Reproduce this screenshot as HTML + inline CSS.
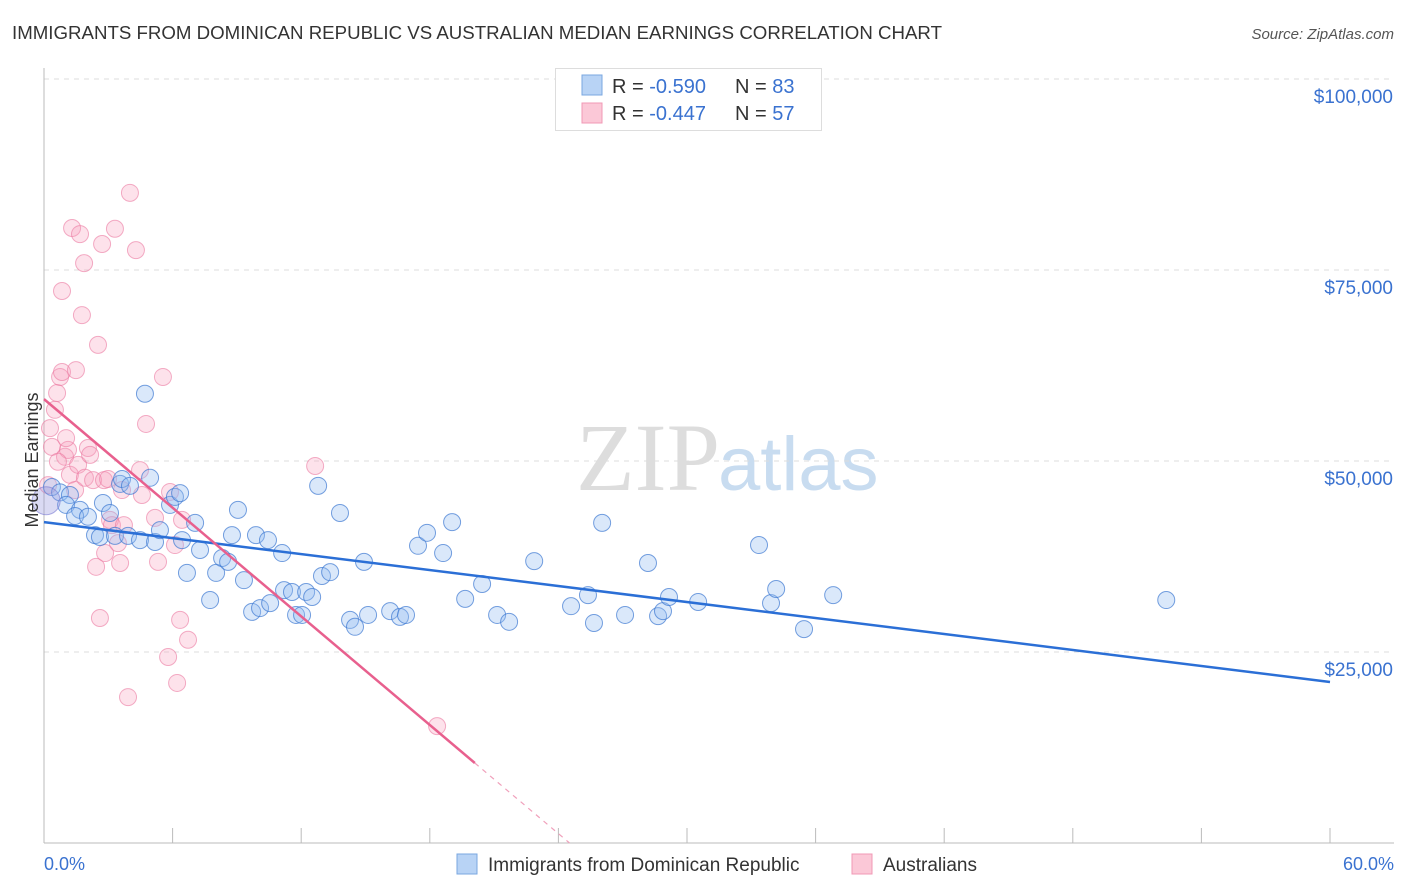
<!DOCTYPE html>
<html><head><meta charset="utf-8"><style>
body{margin:0;background:#fff;font-family:"Liberation Sans",sans-serif;}
#wrap{position:relative;width:1406px;height:892px;overflow:hidden}
</style></head><body>
<div id="wrap">
<svg id="svg" width="1406" height="892" xmlns="http://www.w3.org/2000/svg">
<text x="12" y="39" font-size="18" fill="#333" textLength="930" lengthAdjust="spacingAndGlyphs">IMMIGRANTS FROM DOMINICAN REPUBLIC VS AUSTRALIAN MEDIAN EARNINGS CORRELATION CHART</text>
<text x="1394" y="39" font-size="15" fill="#555" font-style="italic" text-anchor="end">Source: ZipAtlas.com</text>
<text x="720" y="490" font-size="96" fill="#ddd" text-anchor="end" font-family="Liberation Serif">ZIP</text>
<text x="718" y="490" font-size="76" fill="#c8dcf0">atlas</text>
<g id="grid"></g><g id="axes"></g><g id="pts"></g><g id="lines"></g>
<text x="38" y="460" font-size="18" fill="#333" text-anchor="middle" transform="rotate(-90 38 460)">Median Earnings</text>
<text x="44" y="870" font-size="18" fill="#3a72d0">0.0%</text>
<text x="1394" y="870" font-size="18" fill="#3a72d0" text-anchor="end">60.0%</text>
<g>
<rect x="555.5" y="68.5" width="266" height="62" fill="#fff" stroke="#ddd"/>
<rect x="582" y="75" width="20" height="20" fill="#b8d3f5" stroke="#7aa7e0"/>
<rect x="582" y="103" width="20" height="20" fill="#fbc8d7" stroke="#f098b5"/>
<text x="612" y="93" font-size="20" fill="#333">R = <tspan fill="#3a72d0">-0.590</tspan><tspan x="735">N = </tspan><tspan fill="#3a72d0">83</tspan></text>
<text x="612" y="120" font-size="20" fill="#333">R = <tspan fill="#3a72d0">-0.447</tspan><tspan x="735">N = </tspan><tspan fill="#3a72d0">57</tspan></text>
</g>
<g>
<rect x="457" y="854" width="20" height="20" fill="#b8d3f5" stroke="#7aa7e0"/>
<text x="488" y="871" font-size="19" fill="#333">Immigrants from Dominican Republic</text>
<rect x="852" y="854" width="20" height="20" fill="#fbc8d7" stroke="#f098b5"/>
<text x="883" y="871" font-size="19" fill="#333">Australians</text>
</g>
</svg></div>
<script>
const yTicks=[25000,50000,75000,100000];
const yTickLabels=["$25,000","$50,000","$75,000","$100,000"];
const xTicks=[0,6,12,18,24,30,36,42,48,54,60];
const blueX=[0.37,0.75,1.21,1.03,1.68,1.45,2.05,2.75,3.08,2.38,2.61,3.55,3.64,4.01,4.71,4.95,3.31,3.92,4.48,5.18,5.41,5.88,6.11,6.35,6.44,6.67,7.05,7.28,7.75,8.03,8.31,8.59,9.05,8.77,9.33,9.71,10.08,9.89,10.45,10.55,11.11,11.2,11.57,11.76,12.04,12.23,12.51,12.79,12.97,13.35,13.81,14.28,14.51,14.93,15.12,16.15,16.61,16.89,17.45,17.87,18.62,19.04,19.65,20.44,21.14,21.7,22.87,24.59,25.38,25.66,26.04,27.11,28.18,28.65,28.88,29.16,30.52,33.36,33.92,34.16,35.46,36.82,52.36];
const blueY=[46600,45900,45550,44250,43600,42800,42700,44500,43200,40300,40050,47000,47650,46750,58800,47800,40200,40200,39650,39400,40950,44250,45300,45800,39650,35350,41900,38350,31800,35350,37300,36800,43600,40300,34400,30250,30750,40300,39650,31400,37950,33100,32850,29850,29850,32850,32200,46750,34950,35450,43200,29200,28300,36800,29850,30350,29600,29850,38900,40600,37950,42000,31950,33900,29850,28950,36900,31000,32450,28800,41900,29850,36650,29700,30350,32200,31550,39000,31400,33250,28000,32450,31800];
const pinkX=[0.28,0.37,0.51,0.61,0.75,0.84,0.84,0.98,1.12,1.21,1.31,1.45,1.49,1.59,1.68,1.77,1.87,1.91,2.05,2.15,2.29,2.43,2.52,2.61,2.71,2.8,2.85,2.99,3.08,3.17,3.31,3.45,3.55,3.64,3.73,3.92,4.01,4.29,4.48,4.57,4.76,5.18,5.32,5.55,5.79,5.88,6.11,6.21,6.35,6.44,6.72,12.65,18.34,0.19,0.65,1.03];
const pinkY=[54300,51850,56700,58900,61000,61650,72250,50550,51450,48200,80500,46200,61900,49500,79700,69100,75900,47800,51700,50800,47500,36150,65200,29450,78400,47500,37950,47650,42300,41600,80400,39250,36650,46200,41600,19100,85100,77600,48800,45550,54850,42550,36800,61000,24350,45950,39000,20950,29200,42300,26600,49350,15300,46850,49900,53000];
const blueTrend=[42000,21080];
const pinkTrend=[58100,10470];
const pinkTrendEnd=20.1;

const NS="http://www.w3.org/2000/svg";
const X=v=>44+v/60*1286;
const Y=v=>843-v/25000*191;
function mk(tag,attrs,parent){const e=document.createElementNS(NS,tag);for(const k in attrs)e.setAttribute(k,attrs[k]);document.getElementById(parent).appendChild(e);return e;}
yTicks.forEach((t,i)=>{
 const g=mk('line',{x1:44,x2:1394,y1:Y(t),y2:Y(t),stroke:'#ddd','stroke-dasharray':'5,5'},'grid');
 
 
 const tx=mk('text',{x:1393,y:Y(t)+24,'font-size':19,fill:'#3a72d0','text-anchor':'end'},'grid');
 tx.textContent=yTickLabels[i];
 
 
});
const ax=mk('line',{x1:44,x2:44,y1:68,y2:843,stroke:'#bbb'},'axes');


const bx=mk('line',{x1:44,x2:1394,y1:843,y2:843,stroke:'#bbb'},'axes');


xTicks.forEach(t=>{
 const l=mk('line',{x1:X(t),x2:X(t),y1:828,y2:843,stroke:'#bbb'},'axes');
 
 
});
pinkX.forEach((x,i)=>{
 const c=mk('circle',{cx:X(x),cy:Y(pinkY[i]),r:8.5,fill:'rgba(247,160,190,0.3)',stroke:'rgba(235,120,160,0.6)','stroke-width':1},'pts');
 
 
});
blueX.forEach((x,i)=>{
 const c=mk('circle',{cx:X(x),cy:Y(blueY[i]),r:8.5,fill:'rgba(150,190,240,0.35)',stroke:'rgba(60,120,210,0.7)','stroke-width':1},'pts');
 
 
});
const big=mk('circle',{cx:X(0.1),cy:Y(44800),r:14,fill:'rgba(150,150,220,0.35)',stroke:'rgba(120,120,210,0.6)'},'pts');


const bl=mk('line',{x1:X(0),y1:Y(blueTrend[0]),x2:X(60),y2:Y(blueTrend[1]),stroke:'#2b6fd6','stroke-width':2.5},'lines');


const slope=(pinkTrend[1]-pinkTrend[0])/pinkTrendEnd;
const zeroX=-pinkTrend[0]/slope;
const pl=mk('line',{x1:X(0),y1:Y(pinkTrend[0]),x2:X(pinkTrendEnd),y2:Y(pinkTrend[1]),stroke:'#e8608e','stroke-width':2.5},'lines');


const pd=mk('line',{x1:X(pinkTrendEnd),y1:Y(pinkTrend[1]),x2:X(zeroX),y2:Y(0),stroke:'#f0a0bb','stroke-width':1.2,'stroke-dasharray':'5,5'},'lines');


</script>
</body></html>
